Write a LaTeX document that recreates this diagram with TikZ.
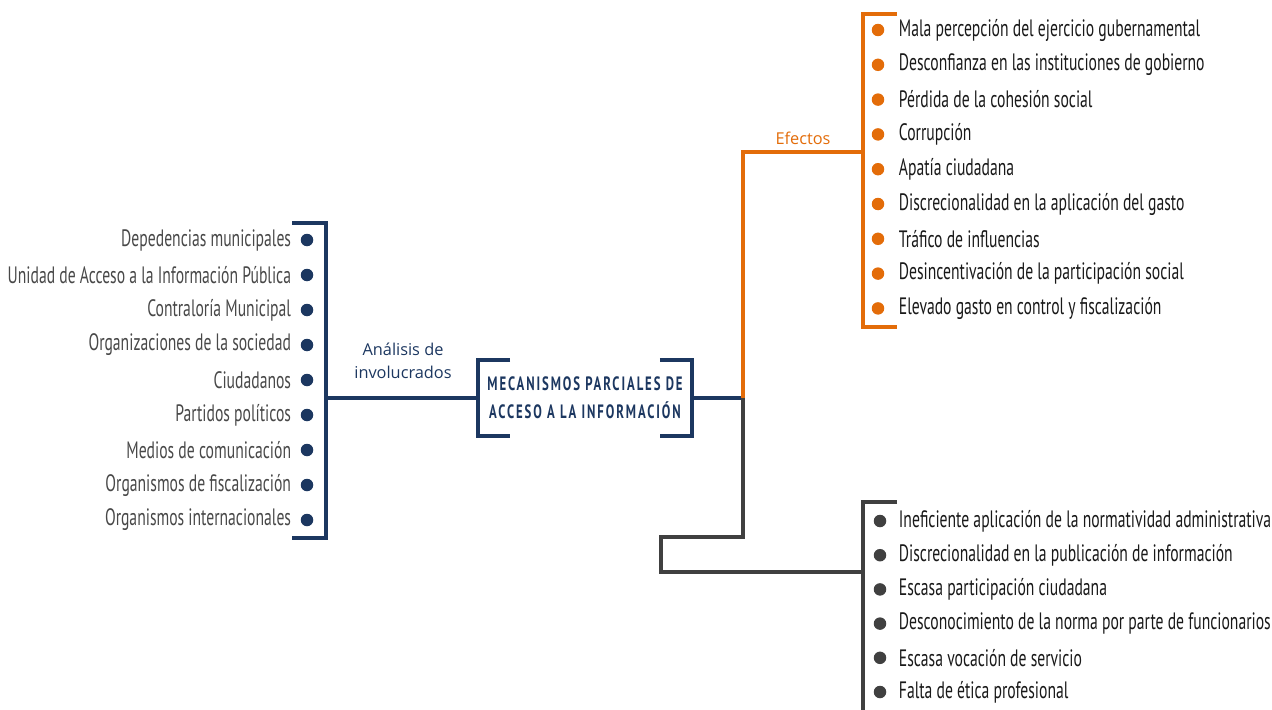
\documentclass[tikz,border=0pt]{standalone}
\usepackage{fontspec}
\setmainfont{Open Sans}
\newfontfamily\agency[FakeStretch=0.66]{PT Sans}
\newfontfamily\agencytitle[FakeStretch=0.66,LetterSpace=10]{PT Sans}
\usetikzlibrary{positioning,calc}
\definecolor{navyline}{RGB}{28,55,96}
\definecolor{orangeline}{RGB}{227,108,9}
\definecolor{darkline}{RGB}{64,64,64}
\definecolor{labelgray}{RGB}{72,72,72}
\definecolor{labelblack}{RGB}{25,25,25}

\begin{document}
\begin{tikzpicture}[x=0.02cm,y=-0.02cm,line width=2.2pt,
  item/.style={inner sep=0pt,font=\agency\fontsize{13.5}{15}\selectfont},
  leftitem/.style={item,anchor=east,text=labelgray},
  rightitem/.style={item,anchor=west,text=labelblack},
  dotmark/.style={circle,inner sep=0pt,minimum size=0.25cm},
  tag/.style={font=\fontsize{9.3}{13}\selectfont,align=center}]
  \useasboundingbox (0,0) rectangle (1272,710);

  % centro
  \node[minimum width=4.2cm,minimum height=1.44cm,font=\agencytitle\bfseries\fontsize{11}{16}\selectfont,text=navyline,align=center] (main) at (585,398) {MECANISMOS PARCIALES DE\\ACCESO A LA INFORMACIÓN};
  \draw[navyline] ($(main.north west)+(32,0)$) -- (main.north west) -- (main.south west) -- ++(32,0);
  \draw[navyline] ($(main.north east)+(-32,0)$) -- (main.north east) -- (main.south east) -- ++(-32,0);

  % involucrados
  \coordinate (invtop) at (326,223);
  \coordinate (invbot) at (326,538);
  \coordinate (invmid) at (326,398);
  \draw[navyline] ($(invtop)+(-34,0)$) -- (invtop) -- (invbot) -- ++(-34,0);
  \draw[navyline] (invmid) -- (main.west);
  \node[tag,text=navyline] (analisis) at (403,361) {Análisis de\\involucrados};
  \foreach \t [count=\i] in {Depedencias municipales,Unidad de Acceso a la Información Pública,Contraloría Municipal,Organizaciones de la sociedad,Ciudadanos,Partidos políticos,Medios de comunicación,Organismos de fiscalización,Organismos internacionales}{
    \node[dotmark,fill=navyline] (dinv\i) at (307,{240+35*(\i-1)}) {};
    \node[leftitem] (inv\i) at (293,{240+35*(\i-1)}) {\t};
  }

  % efectos
  \coordinate (hub) at (743,398);
  \coordinate (eftop) at (863,14);
  \coordinate (efbot) at (863,327);
  \coordinate (efmid) at (863,152);
  \draw[navyline] (main.east) -- (hub);
  \draw[orangeline] (hub) |- (efmid);
  \draw[orangeline] ($(eftop)+(34,0)$) -- (eftop) -- (efbot) -- ++(34,0);
  \node[tag,text=orangeline] (efectos) at (803,138) {Efectos};
  \foreach \t [count=\i] in {Mala percepción del ejercicio gubernamental,Desconfianza en las instituciones de gobierno,Pérdida de la cohesión social,Corrupción,Apatía ciudadana,Discrecionalidad en la aplicación del gasto,Tráfico de influencias,Desincentivación de la participación social,Elevado gasto en control y fiscalización}{
    \node[dotmark,fill=orangeline] (def\i) at (878,{30+34.8*(\i-1)}) {};
    \node[rightitem] (ef\i) at (897,{30+34.8*(\i-1)}) {\t};
  }

  % causas
  \coordinate (cadown) at (743,537);
  \coordinate (caleft) at (661,537);
  \coordinate (calow) at (661,572);
  \coordinate (catop) at (863,502);
  \coordinate (camid) at (863,572);
  \coordinate (cabot) at (863,712);
  \draw[darkline] (hub) -- (cadown) -- (caleft) -- (calow) -- (camid);
  \draw[darkline] ($(catop)+(34,0)$) -- (catop) -- (cabot);
  \foreach \t [count=\i] in {Ineficiente aplicación de la normatividad administrativa,Discrecionalidad en la publicación de información,Escasa participación ciudadana,Desconocimiento de la norma por parte de funcionarios,Escasa vocación de servicio,Falta de ética profesional}{
    \node[dotmark,fill=darkline] (dca\i) at (880,{521+34.2*(\i-1)}) {};
    \node[rightitem] (ca\i) at (897,{521+34.2*(\i-1)}) {\t};
  }
\end{tikzpicture}
\end{document}
